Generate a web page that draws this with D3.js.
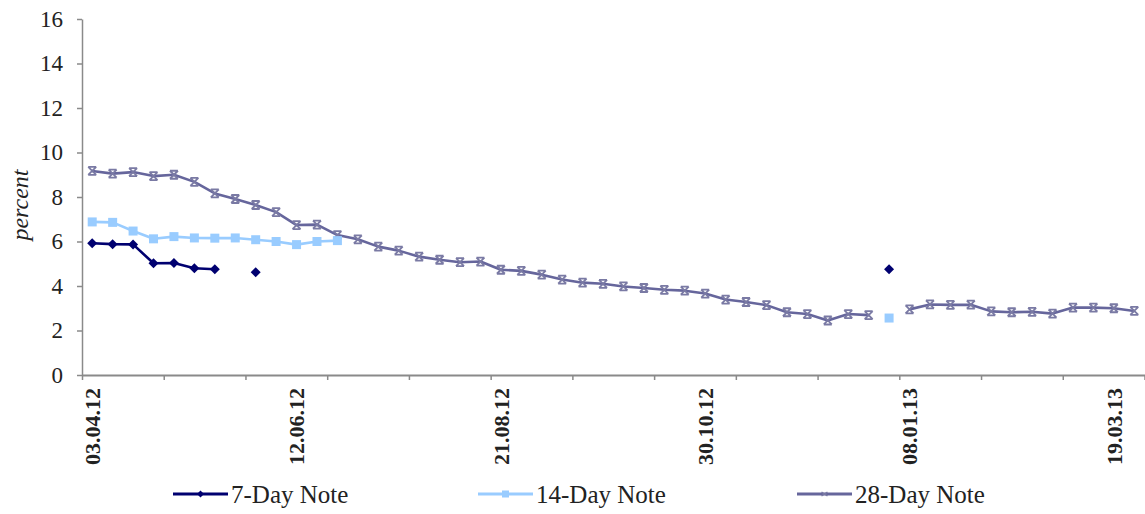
<!DOCTYPE html>
<html>
<head>
<meta charset="utf-8">
<script src="https://cdn.jsdelivr.net/npm/d3@7"></script>
<style>
  html, body { margin: 0; padding: 0; background: #fff; }
  svg { display: block; }
  text { font-family: "Liberation Serif", "Times New Roman", Times, "DejaVu Serif", serif; fill: #222; }
</style>
</head>
<body>
<svg id="chart" width="1145" height="514"></svg>
<script>
// ---- data ----
const categories = [
  "03.04.12","10.04.12","17.04.12","24.04.12","01.05.12","08.05.12","15.05.12","22.05.12","29.05.12","05.06.12",
  "12.06.12","19.06.12","26.06.12","03.07.12","10.07.12","17.07.12","24.07.12","31.07.12","07.08.12","14.08.12",
  "21.08.12","28.08.12","04.09.12","11.09.12","18.09.12","25.09.12","02.10.12","09.10.12","16.10.12","23.10.12",
  "30.10.12","06.11.12","13.11.12","20.11.12","27.11.12","04.12.12","11.12.12","18.12.12","25.12.12","01.01.13",
  "08.01.13","15.01.13","22.01.13","29.01.13","05.02.13","12.02.13","19.02.13","26.02.13","05.03.13","12.03.13",
  "19.03.13","26.03.13"
];
const tickLabels = ["03.04.12","12.06.12","21.08.12","30.10.12","08.01.13","19.03.13"];
const yTicks = [0, 2, 4, 6, 8, 10, 12, 14, 16];

const note7 = [5.92,5.88,5.87,5.02,5.03,4.80,4.75,null,4.62,null,
  null,null,null,null,null,null,null,null,null,null,
  null,null,null,null,null,null,null,null,null,null,
  null,null,null,null,null,null,null,null,null,4.75,
  null,null,null,null,null,null,null,null,null,null,
  null,null];
const note14 = [6.88,6.86,6.47,6.12,6.22,6.16,6.15,6.16,6.08,6.00,
  5.86,6.00,6.04,null,null,null,null,null,null,null,
  null,null,null,null,null,null,null,null,null,null,
  null,null,null,null,null,null,null,null,null,2.56,
  null,null,null,null,null,null,null,null,null,null,
  null,null];
const note28 = [9.17,9.05,9.12,8.94,9.00,8.68,8.16,7.91,7.64,7.32,
  6.74,6.76,6.29,6.10,5.77,5.59,5.32,5.18,5.07,5.10,
  4.73,4.68,4.51,4.29,4.15,4.10,3.98,3.91,3.83,3.79,
  3.66,3.39,3.28,3.14,2.82,2.74,2.45,2.74,2.69,null,
  2.95,3.17,3.15,3.16,2.86,2.82,2.84,2.76,3.03,3.03,
  3.00,2.88];

const seriesNames = ["7-Day Note", "14-Day Note", "28-Day Note"];
const seriesColors = ["#000070", "#99ccff", "#66669c"];
const markerColors = ["#000070", "#99ccff", "#7a7aa4"];
const markerTypes = ["diamond", "square", "star"];

const FONT = "'Liberation Serif', 'Times New Roman', Times, 'DejaVu Serif', serif";

// ---- layout ----
const svg = d3.select("#chart");
const plotLeft = 82, plotRight = 1144.5, plotTop = 19, plotBottom = 375;

const x = d3.scaleBand().domain(categories).range([plotLeft, plotRight]).padding(0);
const xIdx = d3.scaleLinear().domain([0, categories.length]).range([plotLeft, plotRight]);
const y = d3.scaleLinear().domain([0, 16]).range([plotBottom, plotTop]);

// y axis
const yAxis = svg.append("g")
  .attr("transform", `translate(${plotLeft},0)`)
  .call(d3.axisLeft(y).tickValues(yTicks).tickSize(5).tickPadding(14).tickSizeOuter(0));
yAxis.select(".domain").attr("stroke", "#8a8a8a").attr("stroke-width", 1.5);
yAxis.selectAll(".tick line").attr("stroke", "#8a8a8a").attr("stroke-width", 1.5);
yAxis.selectAll(".tick text")
  .attr("font-family", FONT).attr("font-size", 23).attr("fill", "#222");

// x axis ticks (every 4 categories)
const xTickVals = d3.range(0, categories.length + 1, 4);
const xAxis = svg.append("g")
  .attr("transform", `translate(0,${plotBottom})`)
  .call(d3.axisBottom(xIdx).tickValues(xTickVals).tickFormat("").tickSize(5).tickSizeOuter(0));
xAxis.select(".domain").attr("stroke", "#8a8a8a").attr("stroke-width", 2);
xAxis.selectAll(".tick line").attr("stroke", "#8a8a8a").attr("stroke-width", 1.5);

// x labels
const xLab = svg.append("g")
  .attr("transform", `translate(0,${plotBottom})`)
  .call(d3.axisBottom(x).tickValues(tickLabels).tickSize(0).tickSizeOuter(0));
xLab.select(".domain").remove();
xLab.selectAll(".tick text")
  .attr("font-family", FONT).attr("font-size", 22).attr("font-weight", "bold")
  .attr("fill", "#222")
  .attr("text-anchor", "end")
  .attr("transform", "rotate(-90)")
  .attr("x", -13).attr("y", 0).attr("dy", "0.35em");

// y title
svg.append("text")
  .attr("transform", `translate(28,${(plotTop + plotBottom) / 2 + 8}) rotate(-90)`)
  .attr("text-anchor", "middle")
  .attr("font-family", FONT)
  .attr("font-size", 24).attr("font-style", "italic")
  .text("percent");

// ---- series ----
const allSeries = [note7, note14, note28];
const cx = i => x(categories[i]) + x.bandwidth() / 2;

function drawMarker(g, type, color, px, py) {
  if (type === "diamond") {
    g.append("path").attr("d", `M${px},${py - 5}L${px + 5},${py}L${px},${py + 5}L${px - 5},${py}Z`)
      .attr("fill", color);
  } else if (type === "square") {
    g.append("rect").attr("x", px - 4.5).attr("y", py - 4.5).attr("width", 9).attr("height", 9)
      .attr("fill", color);
  } else {
    const s = 4;
    g.append("path")
      .attr("d", `M${px - s},${py - s}L${px + s},${py + s}M${px - s},${py + s}L${px + s},${py - s}M${px - s},${py - s}L${px + s},${py - s}M${px - s},${py + s}L${px + s},${py + s}`)
      .attr("stroke", color).attr("stroke-width", 1.8).attr("fill", "none");
  }
}

[2, 1, 0].forEach(si => {
  const data = allSeries[si];
  const g = svg.append("g");
  const line = d3.line()
    .defined(d => d != null)
    .x((d, i) => cx(i))
    .y(d => y(d));
  g.append("path")
    .attr("d", line(data))
    .attr("fill", "none")
    .attr("stroke", seriesColors[si])
    .attr("stroke-width", 2.6)
    .attr("stroke-linejoin", "round");
  data.forEach((v, i) => {
    if (v != null) drawMarker(g, markerTypes[si], markerColors[si], cx(i), y(v));
  });
});

// ---- legend ----
const legendX = [173, 478, 797];
const legendY = 494;
seriesNames.forEach((name, si) => {
  const g = svg.append("g");
  g.append("line")
    .attr("x1", legendX[si]).attr("x2", legendX[si] + 55)
    .attr("y1", legendY).attr("y2", legendY)
    .attr("stroke", seriesColors[si]).attr("stroke-width", 3);
  const mx = legendX[si] + 27.5;
  if (si === 0) {
    g.append("path").attr("d", `M${mx},${legendY - 3.5}L${mx + 3.5},${legendY}L${mx},${legendY + 3.5}L${mx - 3.5},${legendY}Z`).attr("fill", seriesColors[0]);
  } else if (si === 1) {
    g.append("rect").attr("x", mx - 3.5).attr("y", legendY - 3.5).attr("width", 7).attr("height", 7).attr("fill", seriesColors[1]);
  } else {
    g.append("path").attr("d", `M${mx - 3},${legendY - 2}L${mx + 3},${legendY + 2}M${mx - 3},${legendY + 2}L${mx + 3},${legendY - 2}`)
      .attr("stroke", markerColors[2]).attr("stroke-width", 1.5);
  }
  g.append("text")
    .attr("x", legendX[si] + 58).attr("y", legendY)
    .attr("dy", "0.35em")
    .attr("font-family", FONT)
    .attr("font-size", 25).attr("fill", "#333")
    .text(name);
});
</script>
</body>
</html>
